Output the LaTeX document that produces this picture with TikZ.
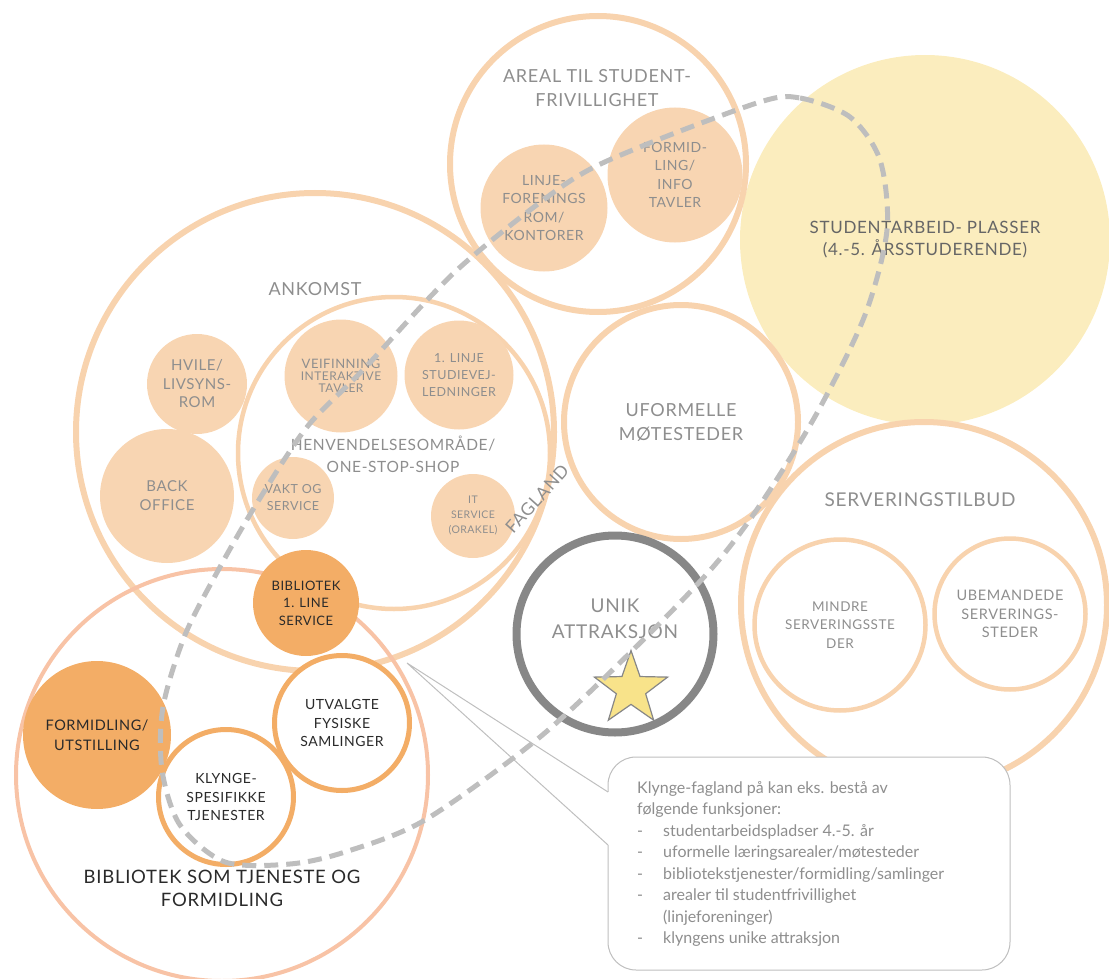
\documentclass[tikz,border=0pt]{standalone}
\usepackage{fontspec}
\setmainfont{Lato}
\newfontfamily\capsfont[LetterSpace=4]{Lato}
\usetikzlibrary{positioning,shapes.geometric}
\definecolor{ringc}{HTML}{F8D3AE}
\definecolor{blobc}{HTML}{F8D5B2}
\definecolor{orangec}{HTML}{F3AD66}
\definecolor{salmonc}{HTML}{F8C3A6}
\definecolor{yellowc}{HTML}{FBEDBE}
\definecolor{unikc}{HTML}{878787}
\definecolor{dashc}{HTML}{BEBEBE}
\definecolor{labc}{HTML}{8E8E8E}
\definecolor{darkc}{HTML}{2A2A2A}
\definecolor{starc}{HTML}{F8E38A}
\newcommand{\bigcaps}{\capsfont\fontsize{13}{15}\selectfont}
\newcommand{\tinycaps}{\capsfont\fontsize{12}{12.5}\selectfont}

\begin{document}
\begin{tikzpicture}[x=1pt,y=-1pt,
  ring/.style={circle,draw=ringc,line width=6pt,inner sep=0pt},
  thinring/.style={circle,draw=ringc,line width=4.5pt,inner sep=0pt},
  blob/.style={circle,fill=blobc,inner sep=0pt,text=labc,align=center},
  libblob/.style={circle,fill=orangec,inner sep=0pt,text=darkc,align=center},
  libring/.style={circle,draw=orangec,fill=white,line width=5pt,inner sep=0pt,text=darkc,align=center},
  title/.style={text=labc,align=center,font=\capsfont\fontsize{18}{24}\selectfont},
  lab/.style={font=\capsfont\fontsize{14}{18.5}\selectfont},
  smalllab/.style={font=\capsfont\fontsize{13.5}{18.5}\selectfont},
  notebox/.style={rectangle,rounded corners=28pt,draw=black!25,fill=white,line width=1pt},
  fagline/.style={draw=dashc,line width=5pt,dash pattern=on 14pt off 8pt}]
\useasboundingbox (0,0) rectangle (1109,979);

\node (plasser) [circle,fill=yellowc,minimum size=370pt,inner sep=0pt,text=black!60,
  font=\capsfont\fontsize{17}{22}\selectfont,align=center] at (925,240)
  {STUDENTARBEID- PLASSER\\(4.-5. ÅRSSTUDERENDE)};

\node (ankomst) [ring,minimum size=478pt] at (315,432) {};
\node (henv) [thinring,minimum size=312pt] at (394,453) {};
\node (areal) [ring,minimum size=296pt] at (598,164) {};
\node (uform) [ring,minimum size=234pt,title] at (681,422) {UFORMELLE\\MØTESTEDER};
\node (serv) [ring,minimum size=366pt] at (924,605) {};
\node (mindre) [thinring,minimum size=171pt,text=labc,align=center,smalllab] at (840,625)
  {MINDRE\\SERVERINGSSTE\\DER};
\node (ubem) [thinring,minimum size=151pt,text=labc,align=center,smalllab,font=\capsfont\fontsize{14.5}{18.5}\selectfont] at (1010,614)
  {UBEMANDEDE\\SERVERINGS-\\STEDER};
\node (unik) [circle,draw=unikc,line width=8pt,minimum size=197pt,inner sep=0pt] at (615,634) {};
\node (bibl) [circle,draw=salmonc,line width=4pt,minimum size=412pt,inner sep=0pt] at (222,775) {};

\node [title] at (597,88) {AREAL TIL STUDENT-\\FRIVILLIGHET};
\node (linje) [blob,minimum size=127pt,lab] at (544,208) {LINJE-\\FORENINGS\\ROM/\\KONTORER};
\node (info) [blob,minimum size=135pt,lab] at (675,175) {FORMID-\\LING/\\INFO\\TAVLER};

\node [title] at (315,289) {ANKOMST};
\node (hvile) [blob,minimum size=100pt,font=\capsfont\fontsize{15}{18.5}\selectfont] at (197,384) {HVILE/\\LIVSYNS-\\ROM};
\node (back) [blob,minimum size=134pt,font=\capsfont\fontsize{15}{19}\selectfont] at (167,496) {BACK\\OFFICE};
\node (veif) [blob,minimum size=113pt] at (341,376)
  {\bigcaps VEIFINNING\\\tinycaps INTERAKTIVE\\\tinycaps TAVLER};
\node (studv) [blob,minimum size=109pt,font=\capsfont\fontsize{12.5}{17}\selectfont] at (459,375) {1. LINJE\\STUDIEVEJ-\\LEDNINGER};
\node [text=labc,align=center,font=\capsfont\fontsize{15.5}{22}\selectfont] at (393,454)
  {HENVENDELSESOMRÅDE/\\ONE-STOP-SHOP};
\node (vakt) [blob,minimum size=82pt,font=\capsfont\fontsize{12.5}{17}\selectfont] at (293,498) {VAKT OG\\SERVICE};
\node (it) [blob,minimum size=84pt,font=\capsfont\fontsize{10.5}{15}\selectfont] at (473,516) {IT\\SERVICE\\(ORAKEL)};
\node [text=labc,rotate=48,font=\capsfont\fontsize{17.5}{20}\selectfont] at (537,499) {FAGLAND};

\node [title,font=\capsfont\fontsize{19}{24}\selectfont] at (920,500) {SERVERINGSTILBUD};
\node [title,font=\capsfont\fontsize{19}{26}\selectfont] at (615,619) {UNIK\\ATTRAKSJON};

\node (bib1) [libblob,minimum size=106pt,font=\capsfont\fontsize{13}{17.5}\selectfont] at (306,603) {BIBLIOTEK\\1. LINE\\SERVICE};
\node (utst) [libblob,minimum size=148pt,font=\capsfont\fontsize{14.5}{20}\selectfont] at (97,735) {FORMIDLING/\\UTSTILLING};
\node (samling) [libring,minimum size=135pt,lab] at (342,723) {UTVALGTE\\FYSISKE\\SAMLINGER};
\node (klynge) [libring,minimum size=135pt,lab] at (226,797) {KLYNGE-\\SPESIFIKKE\\TJENESTER};
\node [text=darkc,align=center,font=\capsfont\fontsize{18.5}{23}\selectfont] at (222,888)
  {BIBLIOTEK SOM TJENESTE OG\\FORMIDLING};

\node (note) [notebox,minimum width=402pt,minimum height=213pt] at (809,863.5) {};
\coordinate (tip) at (407,663);
\coordinate (t1) at (608,792);
\coordinate (t2) at (608,845);
\draw[white,line width=2.5pt] (t1) -- (t2);
\draw[black!25,line width=1pt] (t1) -- (tip) -- (t2);
\node (notetext) [anchor=north west,inner sep=0pt,text=labc,align=left,
  font=\fontsize{16}{21.5}\selectfont] at (637,781)
  {Klynge-fagland på kan eks. bestå av\\
   følgende funksjoner:\\
   \makebox[26pt][l]{-}studentarbeidspladser 4.-5. år\\
   \makebox[26pt][l]{-}uformelle læringsarealer/møtesteder\\
   \makebox[26pt][l]{-}bibliotekstjenester/formidling/samlinger\\
   \makebox[26pt][l]{-}arealer til studentfrivillighet\\
   \hspace*{26pt}(linjeforeninger)\\
   \makebox[26pt][l]{-}klyngens unike attraksjon};

\node (star) [star,star points=5,star point ratio=2.5,minimum size=77pt,inner sep=0pt,
  fill=starc,draw=unikc,line width=1.2pt] at (631,689) {};

\draw[fagline] plot[smooth cycle] coordinates {(760,102) (800,98) (850,117) (880,160)
  (887,230) (865,315) (817,413) (760,505) (713,567) (640,643) (540,737) (425,820)
  (345,852) (290,864) (225,862) (180,825) (162,770) (163,707) (185,635) (220,567)
  (257,503) (307,427) (363,370) (457,270) (567,183) (640,147)};
\end{tikzpicture}
\end{document}
